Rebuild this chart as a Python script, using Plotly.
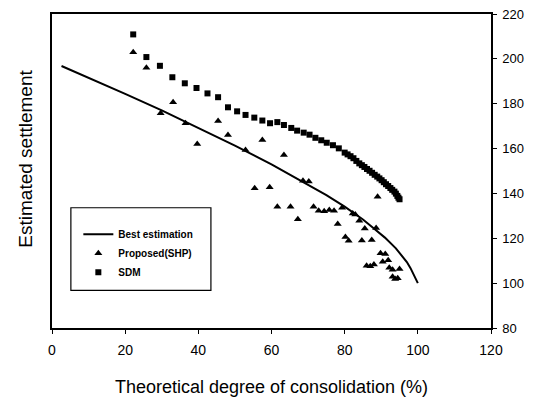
import plotly.graph_objects as go

# Best estimation curve
best_x = [2.6, 10, 20, 30, 40, 50, 60, 70, 75, 80, 85, 88, 91, 94, 96, 97, 98, 99, 100]
best_y = [196.8, 191.6, 184.4, 177.0, 169.3, 161.3, 153.0, 144.0, 139.2, 134.1, 128.4, 124.4, 120.3,
          115.5, 111.6, 109.4, 106.7, 103.6, 100.0]

# Proposed (SHP) triangles
shp_x = [22.2, 25.8, 29.7, 33.1, 36.5, 39.7, 45.4, 48.1, 52.9, 55.4, 57.5, 59.5, 61.6, 63.4,
         65.2, 67.2, 68.6, 70.2, 71.5, 72.9, 74.4, 75.8, 77.1, 78.1, 79.3, 80.2, 81.1, 82.2,
         82.9, 84.0, 84.7, 85.5, 86.0, 87.0, 87.4, 88.0, 88.6, 89.0, 89.8, 90.4, 91.1, 91.9,
         92.2, 93.1, 93.1, 93.8, 94.5, 95.0]
shp_y = [202.9, 196.0, 175.7, 180.6, 171.3, 162.0, 172.3, 166.0, 159.4, 142.3, 163.8, 142.7, 134.1, 157.1,
         134.1, 128.5, 145.7, 145.3, 134.1, 132.3, 132.0, 132.6, 132.3, 126.4, 133.6, 120.6, 118.9, 131.0,
         130.6, 127.8, 119.0, 124.4, 107.8, 107.5, 119.2, 108.3, 124.6, 138.5, 113.3, 109.5, 113.0, 110.2,
         106.9, 106.0, 102.8, 101.9, 102.2, 106.3]

# SDM squares
sdm_x = [22.2, 25.8, 29.5, 32.9, 36.3, 39.5, 42.5, 45.4, 48.1, 50.6, 52.9, 55.3, 57.5, 59.6, 61.6,
         63.4, 65.4, 67.0, 68.8, 70.4, 72.0, 73.6, 75.1, 76.8, 78.4, 80.0, 80.8, 81.6, 82.4, 83.2,
         84.0, 84.7, 85.4, 86.1, 86.8, 87.5, 88.2, 88.9, 89.5, 90.1, 90.7, 91.3, 91.9, 92.5, 93.0,
         93.6, 94.0, 94.4, 94.7, 95.0]
sdm_y = [210.9, 200.8, 196.9, 191.8, 189.1, 187.0, 184.6, 182.9, 178.4, 176.6, 175.0, 173.8, 172.5, 171.3, 171.8,
         170.5, 169.2, 168.0, 167.1, 166.2, 164.8, 163.7, 162.6, 161.5, 160.1, 158.2, 157.4, 156.6, 155.7, 154.5,
         153.4, 152.6, 151.8, 150.9, 150.1, 149.2, 148.3, 147.5, 146.7, 145.9, 145.0, 144.1, 143.3, 142.4, 141.6,
         140.8, 139.9, 138.9, 138.1, 137.4]

x_ticks = [0, 20, 40, 60, 80, 100, 120]
y_ticks = [80, 100, 120, 140, 160, 180, 200, 220]

fig = go.Figure()
fig.add_trace(go.Scatter(x=best_x, y=best_y, mode="lines", name="Best estimation",
                         line=dict(color="black", width=2)))
fig.add_trace(go.Scatter(x=shp_x, y=shp_y, mode="markers", name="Proposed(SHP)",
                         marker=dict(symbol="triangle-up", size=7, color="black")))
fig.add_trace(go.Scatter(x=sdm_x, y=sdm_y, mode="markers", name="SDM",
                         marker=dict(symbol="square", size=6, color="black")))

fig.update_layout(
    width=537, height=401,
    margin=dict(l=52, r=46, t=14, b=73),
    paper_bgcolor="white", plot_bgcolor="white",
    font=dict(family="Arial, Liberation Sans, sans-serif", color="black"),
    showlegend=True,
    legend=dict(x=0.06, y=0.345, xanchor="left", yanchor="top",
                bgcolor="rgba(0,0,0,0)", borderwidth=0,
                font=dict(size=10, family="Arial, Liberation Sans, sans-serif", weight="bold"),
                itemwidth=30, tracegroupgap=0),
    shapes=[dict(type="rect", xref="paper", yref="paper",
                 x0=0.043, x1=0.362, y0=0.12, y1=0.383,
                 line=dict(color="black", width=1.2), fillcolor="rgba(0,0,0,0)")],
)
fig.update_xaxes(range=[0, 120], tickvals=x_ticks, ticks="outside", ticklen=4,
                 tickwidth=1.2, tickcolor="black", showline=True, linecolor="black",
                 linewidth=1.5, mirror=True, showgrid=False, zeroline=False,
                 tickfont=dict(size=14), ticklabelstandoff=4, automargin=False,
                 title=dict(text="Theoretical degree of consolidation (%)", font=dict(size=18), standoff=24))
fig.update_yaxes(range=[80, 220], tickvals=y_ticks, side="right", ticks="outside", ticklen=4,
                 tickwidth=1.2, tickcolor="black", showline=True, linecolor="black",
                 linewidth=1.5, mirror=True, showgrid=False, zeroline=False,
                 tickfont=dict(size=13), ticklabelstandoff=3, automargin=False)
fig.add_annotation(text="Estimated settlement", xref="paper", yref="paper",
                   x=-0.061, y=0.54, xanchor="center", yanchor="middle",
                   textangle=-90, showarrow=False, font=dict(size=19))

fig.write_html("out.html")
